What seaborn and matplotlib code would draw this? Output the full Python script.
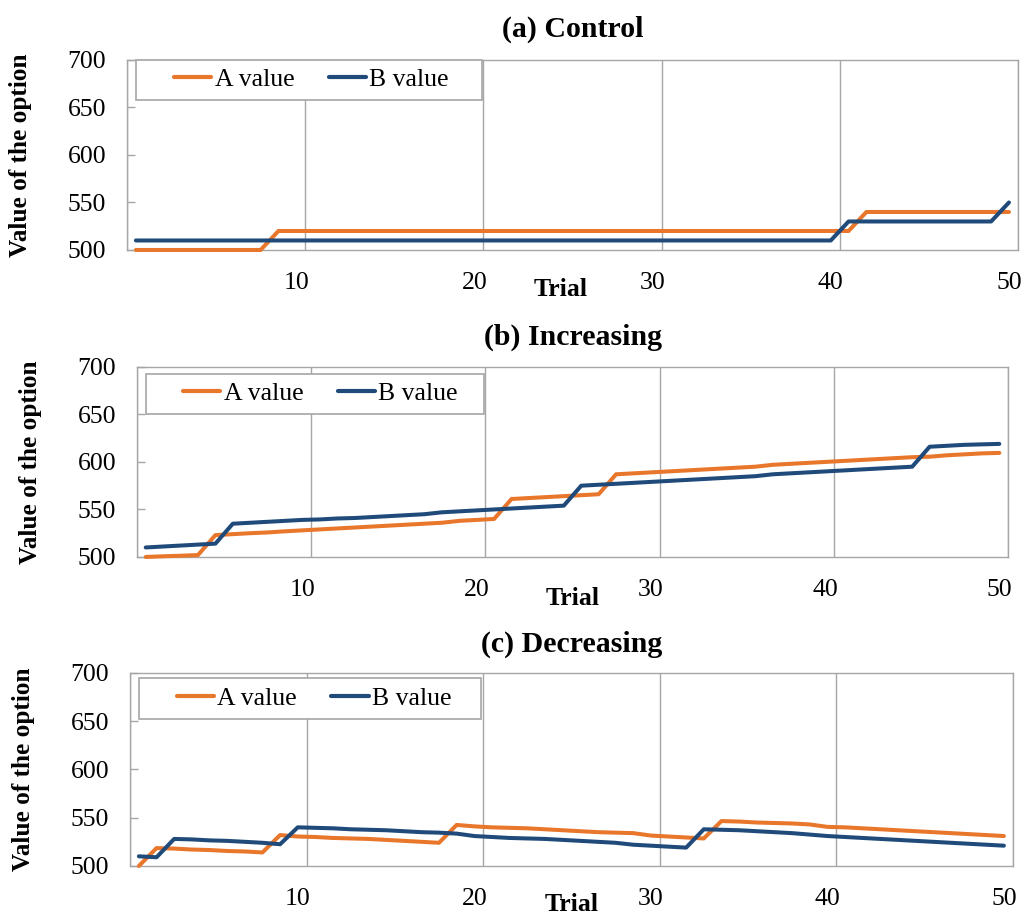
import matplotlib
matplotlib.use("Agg")
import matplotlib.pyplot as plt
import seaborn as sns
import pandas as pd
from matplotlib.patches import Rectangle

# ---------------- data ----------------
trials = list(range(1, 51))
series_names = ["A value", "B value"]
panel_titles = ["(a) Control", "(b) Increasing", "(c) Decreasing"]
x_tick_labels = [10, 20, 30, 40, 50]
y_ticks = [500, 550, 600, 650, 700]

control_a = [500, 500, 500, 500, 500, 500, 500, 500, 520, 520,
             520, 520, 520, 520, 520, 520, 520, 520, 520, 520,
             520, 520, 520, 520, 520, 520, 520, 520, 520, 520,
             520, 520, 520, 520, 520, 520, 520, 520, 520, 520,
             520, 540, 540, 540, 540, 540, 540, 540, 540, 540]
control_b = [510, 510, 510, 510, 510, 510, 510, 510, 510, 510,
             510, 510, 510, 510, 510, 510, 510, 510, 510, 510,
             510, 510, 510, 510, 510, 510, 510, 510, 510, 510,
             510, 510, 510, 510, 510, 510, 510, 510, 510, 510,
             530, 530, 530, 530, 530, 530, 530, 530, 530, 550]

increasing_a = [500, 500.7, 501.3, 502, 523, 524, 525, 525.8, 527, 528,
                529, 530, 531, 532, 533, 534, 535, 536, 538, 539,
                540, 561, 562, 563, 564, 565, 566, 587, 588, 589,
                590, 591, 592, 593, 594, 595, 597, 598, 599, 600,
                601, 602, 603, 604, 605, 605.5, 607, 608, 609, 609.5]
increasing_b = [510, 511, 512, 513, 514, 535, 536, 537, 538, 539,
                539.5, 540.5, 541, 542, 543, 544, 545, 547, 548, 549,
                550, 551, 552, 553, 554, 575, 576, 577, 578, 579,
                580, 581, 582, 583, 584, 585, 587, 588, 589, 590,
                591, 592, 593, 594, 595, 616, 617, 618, 618.5, 619]

decreasing_a = [500, 518.5, 518, 517, 516.5, 515.5, 515, 514, 532, 530.5,
                530, 529, 528.5, 528, 527, 526, 525, 524, 542.5, 541,
                540, 539.5, 539, 538, 537, 536, 535, 534.5, 534, 531.5,
                530.5, 529.5, 528.5, 546.5, 546, 545, 544.5, 544, 543, 540.5,
                540, 539, 538, 537, 536, 535, 534, 533, 532, 531]
decreasing_b = [510, 509, 528, 527.5, 526.5, 526, 525, 524, 522.5, 540,
                539.5, 539, 538, 537.5, 537, 536, 535, 534.5, 533.5, 531,
                530, 529, 528.5, 528, 527, 526, 525, 524, 522, 521,
                520, 519, 538, 537.5, 537, 536, 535, 534, 532.5, 531,
                530, 529, 528, 527, 526, 525, 524, 523, 522, 521]

panels = [(control_a, control_b), (increasing_a, increasing_b),
          (decreasing_a, decreasing_b)]

# ---------------- style ----------------
sns.set_style("white")
plt.rcParams["font.family"] = ["Liberation Serif", "DejaVu Serif"]
plt.rcParams["text.color"] = "black"
plt.rcParams["axes.labelcolor"] = "black"
plt.rcParams["axes.titlecolor"] = "black"
plt.rcParams["xtick.color"] = "black"
plt.rcParams["ytick.color"] = "black"
orange = "#E8762B"
blue = "#1F4A7A"
gray = "#A6A6A6"

tick_fs = 18.5
fig = plt.figure(figsize=(10.24, 9.15), dpi=100)

# axes rectangles (figure fractions)
rects = [[0.124, 0.7268, 0.870, 0.2077],
         [0.1338, 0.3913, 0.8506, 0.2077],
         [0.127, 0.0536, 0.862, 0.211]]
title_pads = [17, 16, 15]
trial_pos = [(0.487, -0.21), (0.5006, -0.216), (0.5006, -0.202)]
ylab_x = [-0.120, -0.1228, -0.121]
legend_box_y = [(0.789, 1.0), (0.753, 0.963), (0.762, 0.974)]

for i, (ax_rect, (a_vals, b_vals)) in enumerate(zip(rects, panels)):
    ax = fig.add_axes(ax_rect)
    df = pd.DataFrame({
        "Trial": trials + trials,
        "Value": a_vals + b_vals,
        "Series": [series_names[0]] * len(trials) + [series_names[1]] * len(trials),
    })
    sns.lineplot(data=df, x="Trial", y="Value", hue="Series",
                 palette=[orange, blue], linewidth=2.9, sort=False,
                 ax=ax, legend="auto")
    for ln in ax.lines:
        ln.set_clip_on(False)
        ln.set_solid_capstyle("round")
        ln.set_solid_joinstyle("round")
        ln.set_zorder(3)

    ax.set_xlim(0.5, 50.5)
    ax.set_ylim(500, 700)
    ax.set_yticks(y_ticks)
    ax.set_yticklabels([str(v) for v in y_ticks])

    major = [0.5] + [v + 0.5 for v in x_tick_labels]
    ax.set_xticks(major)
    ax.set_xticklabels([])
    ax.set_xticks(x_tick_labels, minor=True)
    ax.set_xticklabels([str(v) for v in x_tick_labels], minor=True)

    ax.grid(axis="x", which="major", color=gray, linewidth=1.0)
    ax.grid(axis="y", visible=False)
    ax.set_axisbelow(True)

    ax.tick_params(axis="x", which="major", direction="out", length=6,
                   width=1.0, color=gray)
    ax.tick_params(axis="x", which="minor", length=0, pad=16,
                   labelsize=tick_fs, labelcolor="black")
    ax.tick_params(axis="y", which="major", direction="in", length=6,
                   width=1.0, color=gray, pad=15, labelsize=tick_fs,
                   labelcolor="black", left=True)

    for sp in ax.spines.values():
        sp.set_color(gray)
        sp.set_linewidth(1.0)
        sp.set_visible(True)

    ax.set_title(panel_titles[i], fontsize=21.5, fontweight="bold",
                 pad=title_pads[i], color="black")
    ax.set_xlabel("Trial", fontsize=18.5, fontweight="bold", color="black")
    ax.xaxis.set_label_coords(*trial_pos[i])
    ax.xaxis.label.set_verticalalignment("center")
    ax.set_ylabel("Value of the option", fontsize=18.2, fontweight="bold",
                  color="black")
    ax.yaxis.set_label_coords(ylab_x[i], 0.5)
    ax.yaxis.label.set_verticalalignment("center")

    # legend
    leg = ax.get_legend()
    handles = leg.legend_handles
    labels = [t.get_text() for t in leg.get_texts()]
    leg.remove()
    for h in handles:
        h.set_linewidth(3.0)
    y0, y1 = legend_box_y[i]
    box = Rectangle((0.010, y0), 0.388, y1 - y0, transform=ax.transAxes,
                    facecolor="white", edgecolor=gray, linewidth=1.2,
                    zorder=4, clip_on=False)
    ax.add_patch(box)
    new_leg = ax.legend(handles, labels, ncol=2, frameon=False,
                        loc="center left",
                        bbox_to_anchor=(0.053, (y0 + y1) / 2),
                        borderpad=0, borderaxespad=0,
                        handlelength=1.45, handletextpad=0.12,
                        columnspacing=1.35, fontsize=tick_fs)
    for t in new_leg.get_texts():
        t.set_color("black")
    new_leg.set_zorder(5)

fig.savefig("out.png", dpi=100)
